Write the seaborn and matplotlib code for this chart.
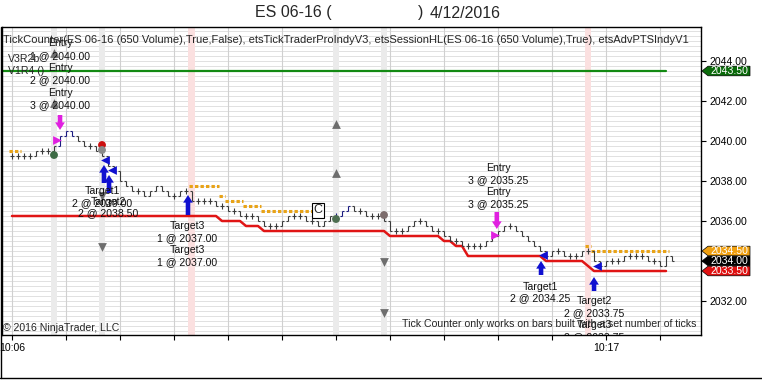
import numpy as np
import pandas as pd
import matplotlib
matplotlib.use("Agg")
import matplotlib.pyplot as plt
from matplotlib.lines import Line2D
from matplotlib.patches import Polygon
import matplotlib.transforms as mtrans
import seaborn as sns

# ---------------- data ----------------
title_left = "ES 06-16 ("
title_close = ")"
title_date = "4/12/2016"
indicator_text = ("TickCounter(ES 06-16 (650 Volume),True,False), etsTickTraderProIndyV3, "
                  "etsSessionHL(ES 06-16 (650 Volume),True), etsAdvPTSIndyV1")
copyright_text = "\u00a9 2016 NinjaTrader, LLC"
warning_text = "Tick Counter only works on bars built with a set number of ticks"

closes = [2039.25, 2039.25, 2039.25, 2039.25, 2039.5, 2039.5, 2039.5, 2039.75, 2040.25, 2040.5,
          2040.25, 2040.0, 2039.75, 2039.75, 2039.5, 2039.25, 2038.75, 2038.5, 2038.0, 2037.75,
          2037.5, 2037.5, 2037.25, 2037.5, 2037.75, 2037.5, 2037.25, 2037.25, 2037.5, 2037.5,
          2037.0, 2037.0, 2037.0, 2037.0, 2036.75, 2036.75, 2036.5, 2036.5, 2036.25, 2036.25,
          2036.25, 2036.0, 2035.75, 2035.75, 2035.75, 2036.0, 2036.25, 2036.25, 2036.25, 2036.0,
          2036.0, 2035.75, 2036.0, 2036.25, 2036.25, 2036.5, 2036.75, 2036.5, 2036.5, 2036.25,
          2036.25, 2036.25, 2036.0, 2035.5, 2035.5, 2035.5, 2035.75, 2036.0, 2036.0, 2035.75,
          2035.5, 2035.5, 2035.25, 2035.0, 2035.0, 2034.75, 2034.75, 2034.75, 2034.75, 2035.0,
          2035.25, 2035.5, 2035.75, 2035.75, 2035.5, 2035.25, 2035.0, 2034.75, 2034.5, 2034.25,
          2034.5, 2034.5, 2034.25, 2034.25, 2034.25, 2034.5, 2034.5, 2034.0, 2033.75, 2034.0,
          2034.0, 2034.0, 2034.25, 2034.25, 2034.25, 2034.25, 2034.0, 2034.0, 2033.75, 2034.25,
          2034.0]
blue_bars = [8, 9, 10, 54, 55, 56]

# stop line (red) : (first bar, last bar, level)
stop_steps = [(0, 34, 2036.25), (35, 38, 2036.0), (39, 41, 2035.75), (42, 62, 2035.5),
              (63, 71, 2035.25), (72, 73, 2035.0), (74, 75, 2034.75), (76, 88, 2034.25),
              (89, 95, 2034.0), (96, 96, 2033.75), (97, 109, 2033.5)]
# target dashes (orange)
target_steps = [(0, 1, 2039.5), (30, 34, 2037.75), (35, 35, 2037.25), (36, 38, 2037.0),
                (39, 41, 2036.75), (42, 50, 2036.5), (96, 96, 2034.75), (97, 109, 2034.5)]
session_high = 2043.5
session_high_span = (-1.6, 109)

time_tick_bars = [0, 9, 18, 27, 36, 45, 54, 63, 72, 81, 90, 99, 108]
time_tick_labels = ["10:06", "", "", "", "", "", "", "", "", "", "", "10:17", ""]
price_ticks = [2032, 2034, 2036, 2038, 2040, 2042, 2044]

grey_band_bars = [7, 15, 54, 62]
pink_band_bars = [29.9, 96]

entry_arrow_x = [8, 80.8]
entry_arrow_tip = [2040.55, 2035.6]
entry_arrow_tail = [2041.3, 2036.45]
entry_mark_x = [7.5, 80.5]
entry_mark_y = [2040.05, 2035.3]

target_arrow_x = [15.33, 16.17, 29.33, 88.17, 97.0]
target_arrow_tip = [2038.8, 2038.3, 2037.3, 2034.0, 2033.2]
target_arrow_tail = [2037.9, 2037.4, 2036.3, 2033.3, 2032.5]
target_mark_x = [15.5, 16.67, 88.5, 97.5]
target_mark_y = [2039.05, 2038.55, 2034.3, 2033.75]

tri_up_x = [7, 7, 54, 54]
tri_up_y = [2044.4, 2041.9, 2040.85, 2038.4]
tri_dn_x = [15, 15, 62, 62]
tri_dn_y = [2037.25, 2034.7, 2033.95, 2031.4]

dot_x = [7, 15, 15, 54, 62]
dot_y = [2039.3, 2039.8, 2039.55, 2036.1, 2036.3]
dot_c = ["#3d6b45", "#cc1010", "#8a8a8a", "#4d6e50", "#7d6d6d"]

c_box_bar, c_box_price = 51, 2036.55

tag_prices = [2043.5, 2034.5, 2034.0, 2033.5]
tag_colors = ["#0a6a0a", "#f0a010", "#000000", "#e01010"]

# ---------------- figure ----------------
sns.set_style("white")
plt.rcParams["font.family"] = ["Liberation Sans", "DejaVu Sans"]

W, H = 762, 381
fig = plt.figure(figsize=(W / 100, H / 100), dpi=100)
ax = fig.add_axes([2 / W, 1 - 335 / H, 699 / W, 308 / H])

def P(x, y):
    return (x / W, 1 - y / H)

ax.set_xlim(-1.667, 114.83)
ax.set_ylim(2030.3, 2045.7)

# grid
for p in np.arange(2030.5, 2045.75, 0.25):
    ax.axhline(p, color="#dcdcdc", lw=0.6, zorder=0)
for b in time_tick_bars:
    ax.axvline(b, color="#d0d0d0", lw=0.8, zorder=0)
for b in grey_band_bars:
    ax.axvspan(b - 0.55, b + 0.55, color="#ebebeb", lw=0, zorder=0.5)
for b in pink_band_bars:
    ax.axvspan(b - 0.55, b + 0.55, color="#fbe0e0", lw=0, zorder=0.5)

# session high (green)
sns.lineplot(x=list(session_high_span), y=[session_high, session_high], ax=ax,
             color="#138a13", lw=1.6, estimator=None, sort=False, zorder=2)

# stop line (red)
sx, sy = [], []
for a, b, v in stop_steps:
    for i in range(a, b + 1):
        sx.append(i)
        sy.append(v)
sns.lineplot(x=sx, y=sy, ax=ax, color="#e01515", lw=1.8, estimator=None, sort=False, zorder=2)

# target dashes (orange)
for a, b, v in target_steps:
    ax.hlines(v, a - 0.5, b + 0.5, colors="#e8a317", lw=2.2, linestyles=(0, (1.1, 0.7)),
              zorder=2)

# OHLC bars (open = previous close)
for i, c in enumerate(closes):
    o = closes[i - 1] if i > 0 else c
    col = "#1a1a80" if i in blue_bars else "#3a3a3a"
    lo, hi = min(o, c), max(o, c)
    if hi == lo:
        lo, hi = lo - 0.15, hi + 0.15
    ax.vlines(i, lo, hi, colors=col, lw=0.8, zorder=3)
    ax.hlines(o, i - 0.4, i, colors=col, lw=0.8, zorder=3)
    ax.hlines(c, i, i + 0.4, colors=col, lw=0.8, zorder=3)

# markers
ax.scatter(tri_up_x, tri_up_y, marker="^", s=40, color="#6e6e6e", zorder=4, lw=0)
ax.scatter(tri_dn_x, tri_dn_y, marker="v", s=40, color="#6e6e6e", zorder=4, lw=0)
ax.scatter(dot_x, dot_y, marker="o", s=32, c=dot_c, zorder=4, lw=0)
ax.scatter(entry_mark_x, entry_mark_y, marker=">", s=40, color="#e020e0", zorder=4, lw=0)
ax.scatter(target_mark_x, target_mark_y, marker="<", s=40, color="#1010d0", zorder=4, lw=0)

def arrow(x, tip, tail, col):
    ax.annotate("", xy=(x, tip), xytext=(x, tail),
                arrowprops=dict(arrowstyle="simple,head_length=0.55,head_width=0.7,tail_width=0.33",
                                fc=col, ec=col, lw=0, shrinkA=0, shrinkB=0, mutation_scale=10),
                zorder=5)

for x, t, l in zip(entry_arrow_x, entry_arrow_tip, entry_arrow_tail):
    arrow(x, t, l, "#e020e0")
for x, t, l in zip(target_arrow_x, target_arrow_tip, target_arrow_tail):
    arrow(x, t, l, "#1010d0")

ax.text(c_box_bar, c_box_price, "C", fontsize=9, ha="center", va="center", zorder=6,
        bbox=dict(boxstyle="square,pad=0.12", fc="white", ec="black", lw=0.8))

# annotation texts
FS = 7.6
labels = [("Entry", 60, 43), ("1 @ 2040.00", 60, 56), ("Entry", 60, 68), ("2 @ 2040.00", 60, 80),
          ("Entry", 60, 93), ("3 @ 2040.00", 60, 105),
          ("Target1", 102, 191), ("2 @ 2039.00", 102, 203), ("Target2", 108, 202),
          ("2 @ 2038.50", 108, 213),
          ("Target3", 187, 226), ("1 @ 2037.00", 187, 238), ("Target3", 187, 250),
          ("1 @ 2037.00", 187, 262),
          ("Entry", 498, 168), ("3 @ 2035.25", 498, 180), ("Entry", 498, 192),
          ("3 @ 2035.25", 498, 204),
          ("Target1", 540, 287), ("2 @ 2034.25", 540, 298), ("Target2", 594, 301),
          ("2 @ 2033.75", 594, 313), ("Target3", 594, 325), ("2 @ 2033.75", 594, 337)]
for s, x, y in labels:
    ax.text(*P(x, y), s, transform=fig.transFigure, ha="center", va="center", fontsize=FS,
            color="#111111", zorder=7, clip_on=True)
ax.text(*P(8, 59), "V3R2b", transform=fig.transFigure, ha="left", va="center", fontsize=FS, zorder=7)
ax.text(*P(8, 71), "V1R4 ()", transform=fig.transFigure, ha="left", va="center", fontsize=FS, zorder=7)
ax.text(*P(3, 40), indicator_text, transform=fig.transFigure, ha="left", va="center",
        fontsize=7.98, zorder=7)
ax.text(*P(3, 328), copyright_text, transform=fig.transFigure, ha="left", va="center",
        fontsize=FS, zorder=7)
ax.text(*P(696, 324), warning_text, transform=fig.transFigure, ha="right", va="center",
        fontsize=FS, zorder=7)

# title
fig.text(*P(255, 13), title_left, ha="left", va="center", fontsize=11.5)
fig.text(*P(418, 13), title_close, ha="left", va="center", fontsize=11.5)
fig.text(*P(430, 13), title_date, ha="left", va="center", fontsize=11.5)

# axes styling
ax.yaxis.tick_right()
ax.set_yticks(price_ticks)
ax.set_yticklabels([f"{p:.2f}" for p in price_ticks])
ax.set_xticks(time_tick_bars)
ax.set_xticklabels(time_tick_labels)
ax.tick_params(axis="y", right=True, left=False, length=3.6, width=0.8, pad=2.5,
               labelsize=7.6, colors="black")
ax.tick_params(axis="x", bottom=True, length=3.6, width=0.8, pad=2.5, labelsize=7.6,
               direction="out", colors="black")
for sp in ax.spines.values():
    sp.set_color("black")
    sp.set_linewidth(1.0)
ax.set_xlabel("")
ax.set_ylabel("")

# right-axis price tags
bt = mtrans.blended_transform_factory(fig.transFigure, ax.transData)
for p, col in zip(tag_prices, tag_colors):
    pts = [(702 / W, p), (708 / W, p + 0.24), (750 / W, p + 0.24), (750 / W, p - 0.24),
           (708 / W, p - 0.24)]
    poly = Polygon(pts, closed=True, fc=col, ec="black", lw=0.5, transform=bt,
                   clip_on=False, zorder=8)
    ax.add_patch(poly)
    ax.text(729 / W, p, f"{p:.2f}", transform=bt, ha="center", va="center", fontsize=7.6,
            color="white", zorder=9, clip_on=False)

# outer panel frame
fig.add_artist(Line2D([1 / W, 1 / W], [1 - 27 / H, 1 - 378 / H], color="black", lw=1.0,
                      transform=fig.transFigure))
fig.add_artist(Line2D([0, 1], [1 - 377.5 / H, 1 - 377.5 / H], color="black", lw=1.0,
                      transform=fig.transFigure))

fig.savefig("out.png", dpi=100)
